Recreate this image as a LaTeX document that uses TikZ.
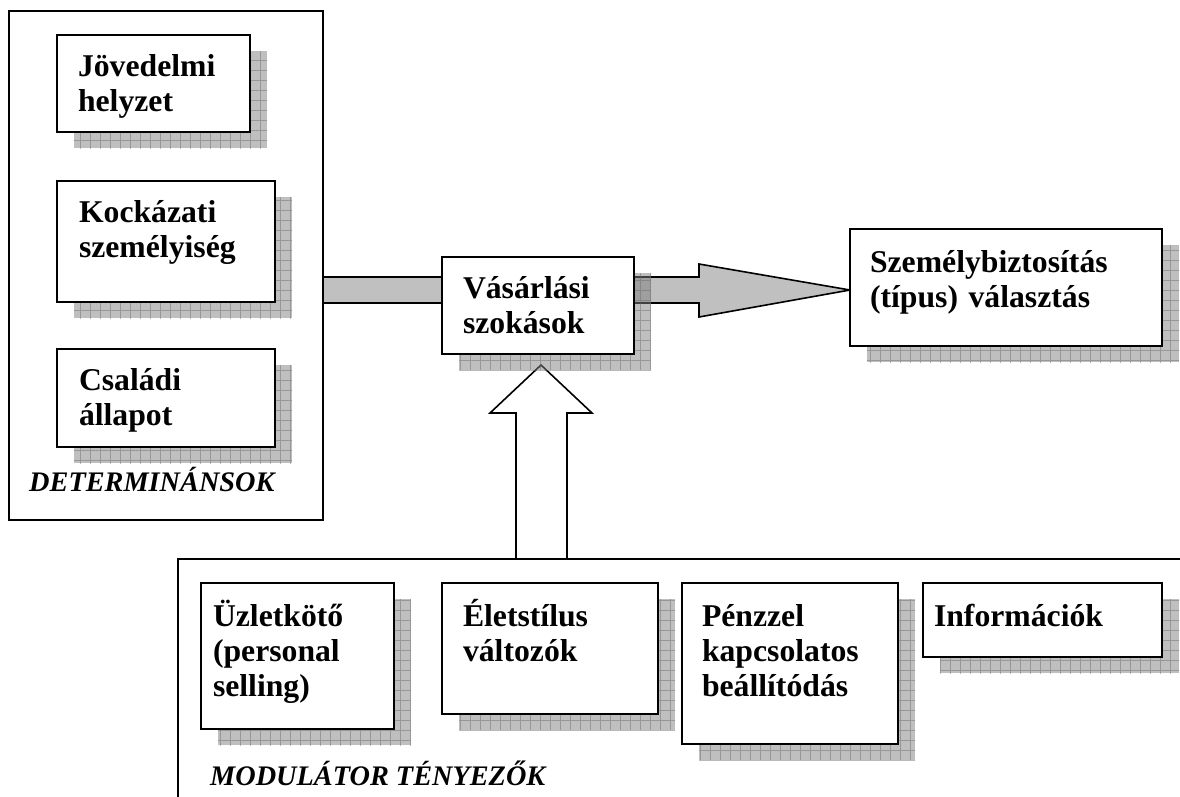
\documentclass[tikz,border=0pt]{standalone}
\usepackage{fontspec}
\setmainfont{Liberation Serif}
\usetikzlibrary{backgrounds}
\definecolor{flowgray}{HTML}{C0C0C0}
\tikzset{
    %Define style for the two group frames
    frame/.style={
           rectangle,
           draw=black, line width=1.6pt,
           anchor=north west,
           inner sep=0pt, outer sep=0pt},
    %Define style for boxes
    factor/.style={
           rectangle,
           draw=black, line width=1.6pt,
           fill=white,
           anchor=north west,
           align=left,
           outer sep=0pt,
           inner ysep=0pt, inner xsep=21pt,
           text height=41pt,
           font=\bfseries\fontsize{31.7pt}{35pt}\selectfont},
    grouptitle/.style={
           anchor=base west,
           inner sep=0pt,
           font=\bfseries\itshape\fontsize{28.3pt}{33pt}\selectfont},
    % Define arrow styles
    flowbar/.style={
           draw=black, line width=1.6pt,
           fill=flowgray},
    inflow/.style={
           draw=black, line width=1.6pt,
           fill=white},
    shadowfill/.style={fill=black!50, fill opacity=.5},
    shadowgrid/.style={draw=black!60, line width=.6pt, opacity=.45}
}
% grey checkered shadow behind a box
\newcommand{\boxshadow}[1]{%
  \begin{scope}
    \clip ([shift={(17pt,-16pt)}]#1.south west) rectangle ([shift={(17pt,-16pt)}]#1.north east);
    \fill[shadowfill] ([shift={(17pt,-16pt)}]#1.south west) rectangle ([shift={(17pt,-16pt)}]#1.north east);
    \draw[shadowgrid] (0,0) grid[step=10pt] (1180,796);
  \end{scope}}
\begin{document}
\begin{tikzpicture}[x=1pt, y=-1pt]
\useasboundingbox (0,0) rectangle (1180,796);
\clip (0,0) rectangle (1180,796);
% determinants
\node[frame, minimum width=314pt, minimum height=509pt] (det) at (9,11) {};
\node[factor, text width=151pt, text depth=56pt] (income) at (57,35) {Jövedelmi\\helyzet};
\node[factor, inner xsep=22pt, text width=174pt, text depth=80pt] (risk) at (57,181) {Kockázati\\személyiség};
\node[factor, inner xsep=22pt, text width=174pt, text depth=57pt] (family) at (57,349) {Családi\\állapot};
\node[grouptitle] (dettitle) at (29,491) {DETERMINÁNSOK};
% habits and choice
\node[factor, text width=150pt, text depth=56pt] (habits) at (442,257) {Vásárlási\\szokások};
\node[factor, inner xsep=20pt, text height=43pt, text width=272pt, text depth=74pt] (choice) at (850,229) {Személybiztosítás\\(típus) választás};
% modulators
\node[frame, minimum width=1100pt, minimum height=300pt] (mod) at (178,559) {};
\node[factor, inner xsep=12pt, text height=43pt, text width=169pt, text depth=103pt] (agent) at (201,583) {Üzletkötő\\(personal\\selling)};
\node[factor, text height=43pt, text width=174pt, text depth=88pt] (lifestyle) at (442,583) {Életstílus\\változók};
\node[factor, inner xsep=20pt, text height=43pt, text width=176pt, text depth=118pt] (money) at (682,583) {Pénzzel\\kapcsolatos\\beállítódás};
\node[factor, inner xsep=11pt, text height=43pt, text width=217pt, text depth=31pt] (info) at (923,583) {Információk};
\node[grouptitle] (modtitle) at (210,785) {MODULÁTOR TÉNYEZŐK};

\begin{scope}[on background layer]
\coordinate (axis) at (0,290);
\coordinate (tip) at ([xshift=3pt,yshift=-11pt]habits.south);
\draw[flowbar] (det.east |- 0,277) rectangle (habits.west |- 0,303);
\draw[flowbar] (habits.east |- 0,277) -- (699,277) -- (699,264) -- (choice.west |- axis)
      -- (699,317) -- (699,303) -- (habits.east |- 0,303);
\draw[inflow] (516,0 |- mod.north) -- (516,413) -- (490,413) -- (tip)
      -- (592,413) -- (567,413) -- (567,0 |- mod.north);
\foreach \fac in {income,risk,family,habits,choice,agent,lifestyle,money,info}
  {\boxshadow{\fac}}
\end{scope}
\end{tikzpicture}
\end{document}
